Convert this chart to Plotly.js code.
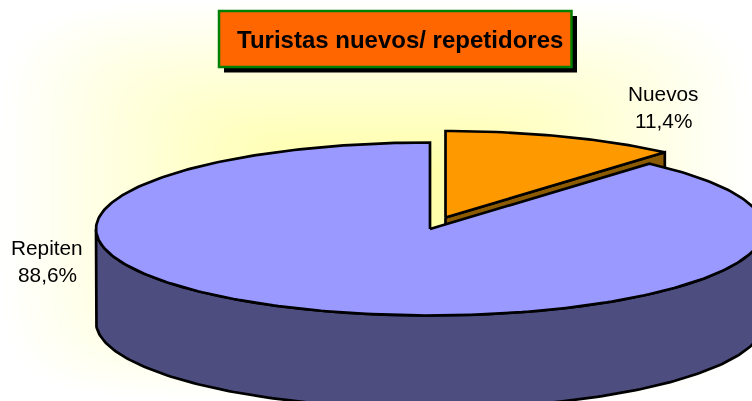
<!DOCTYPE html>
<html><head><meta charset="utf-8">
<script src="https://cdn.plot.ly/plotly-3.0.1.min.js"></script>
<style>
html,body{margin:0;padding:0;width:752px;height:401px;overflow:hidden;background:#fff}
#bg{position:absolute;left:0;top:0;width:752px;height:401px}
#chart{position:absolute;left:0;top:0;width:752px;height:401px}
</style></head><body>
<canvas id="bg" width="752" height="401"></canvas><div id="chart"></div>
<script>
const categories = ['Nuevos', 'Repiten'];
const shares = [11.4, 88.6];
const shareLabels = ['11,4%', '88,6%'];
const sliceColors = ['#FF9900', '#9999FF'];
const wallColors = ['#8C5A00', '#4D4D80'];
const titleText = 'Turistas nuevos/ repetidores';

// slide background: rectangular path gradient, white edge to pale yellow centre
(function () {
  const ctx = document.getElementById('bg').getContext('2d');
  const img = ctx.createImageData(752, 401);
  for (let y = 0; y < 401; y++) for (let x = 0; x < 752; x++) {
    const a = Math.abs(x - 376) / 376, b = Math.abs(y - 200) / 200;
    const t = Math.min(1, Math.pow(a * a * a * a * a * a + b * b * b * b * b * b, 1 / 6));
    const i = (y * 752 + x) * 4;
    img.data[i] = 255; img.data[i + 1] = 255; img.data[i + 2] = 153 + 102 * t; img.data[i + 3] = 255;
  }
  ctx.putImageData(img, 0, 0);
})();

// pie projection (pixel-like axes)
const RX = 334, RY = 86.5, DEPTH = 93;
const C0 = {x: 445.5, y: 217.5}, C1 = {x: 430, y: 229};
const sweep0 = shares[0] / 100 * 360;
const rad = d => d * Math.PI / 180;
const pt = (c, deg, dy = 0) => [c.x + RX * Math.sin(rad(deg)), c.y - RY * Math.cos(rad(deg)) + dy];
function arc(c, a, b, dy = 0) {
  const out = [], n = Math.max(2, Math.ceil(Math.abs(b - a)));
  for (let i = 0; i <= n; i++) out.push(pt(c, a + (b - a) * i / n, dy));
  return out;
}
function poly(points, fill) {
  return {type: 'scatter', mode: 'lines', x: points.map(p => p[0]), y: points.map(p => p[1]),
    fill: 'toself', fillcolor: fill, line: {color: '#000', width: 2.7, shape: 'linear'},
    hoverinfo: 'skip', showlegend: false};
}
const apex0 = [C0.x, C0.y], end0 = pt(C0, sweep0);
const traces = [
  poly([apex0, end0, [end0[0], end0[1] + DEPTH], [apex0[0], apex0[1] + DEPTH], apex0], wallColors[0]),
  poly([apex0, ...arc(C0, 0, sweep0), apex0], sliceColors[0]),
  poly([...arc(C1, 90, 270), ...arc(C1, 270, 90, DEPTH)].concat([pt(C1, 90)]), wallColors[1]),
  poly([[C1.x, C1.y], ...arc(C1, sweep0, 360), [C1.x, C1.y]], sliceColors[1])
];
const font = {family: 'Liberation Sans, Arial, sans-serif', size: 20.8, color: '#000'};
const label = (text, x, y) => ({text, x, y, xref: 'x', yref: 'y', showarrow: false, font, xanchor: 'center', yanchor: 'middle'});
const layout = {
  width: 752, height: 401, margin: {l: 0, r: 0, t: 0, b: 0},
  paper_bgcolor: 'rgba(0,0,0,0)', plot_bgcolor: 'rgba(0,0,0,0)', showlegend: false,
  xaxis: {range: [0, 752], visible: false, fixedrange: true},
  yaxis: {range: [401, 0], visible: false, fixedrange: true},
  shapes: [
    {type: 'rect', xref: 'x', yref: 'y', x0: 224, x1: 577, y0: 16, y1: 72.5, fillcolor: '#000', line: {width: 0}},
    {type: 'rect', xref: 'x', yref: 'y', x0: 219, x1: 571.5, y0: 11, y1: 67, fillcolor: '#FF6600', line: {color: '#008000', width: 2.5}}
  ],
  annotations: [
    {text: '<b>' + titleText + '</b>', x: 399.5, y: 39.5, xref: 'x', yref: 'y', showarrow: false,
      font: {family: font.family, size: 24, color: '#000'}, xanchor: 'center', yanchor: 'middle'},
    label(categories[0], 663.5, 93), label(shareLabels[0], 663.5, 120.5),
    label(categories[1], 47, 247), label(shareLabels[1], 47, 274.5)
  ]
};
Plotly.newPlot('chart', traces, layout, {displayModeBar: false, staticPlot: true});
</script></body></html>
